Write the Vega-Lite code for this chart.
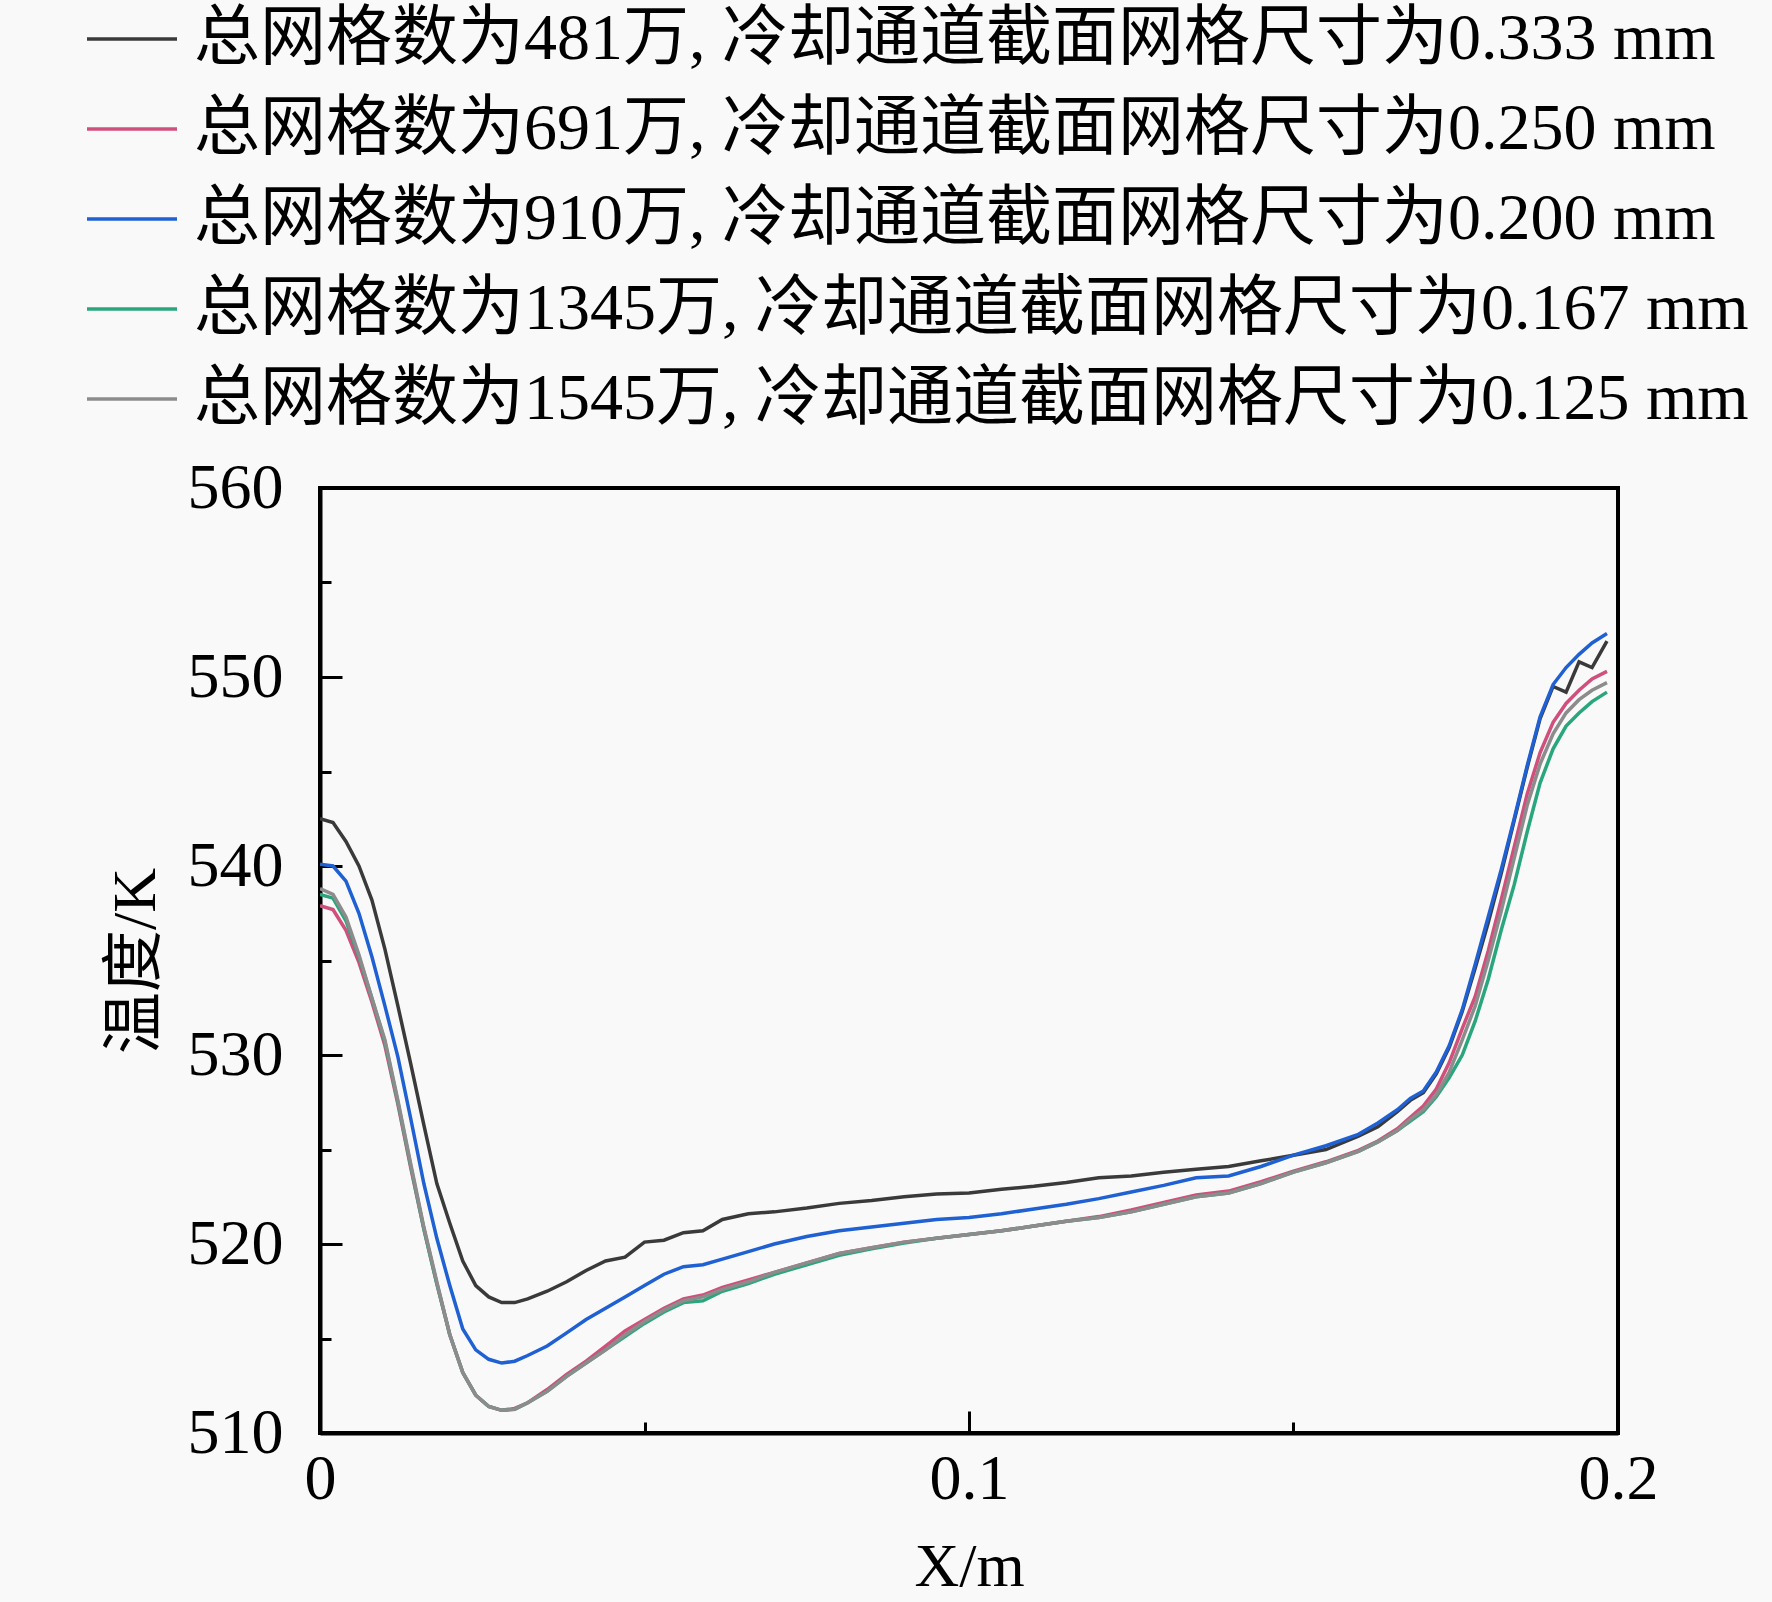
{
  "$schema": "https://vega.github.io/schema/vega-lite/v6.json",
  "width": 1298,
  "height": 945,
  "autosize": {"type": "none"},
  "padding": {"left": 320, "top": 488, "right": 154, "bottom": 169},
  "background": "#f9f9f9",
  "config": {
    "font": "Liberation Serif, Noto Sans CJK SC",
    "view": {"stroke": "black", "strokeWidth": 4},
    "axis": {
      "grid": false,
      "domainColor": "black",
      "domainWidth": 4,
      "tickColor": "black",
      "tickWidth": 3,
      "labelColor": "black",
      "labelFont": "Liberation Serif",
      "labelFontSize": 64,
      "titleColor": "black",
      "titleFontWeight": "normal"
    }
  },
  "data": {
    "values": [
      {"x": 0.0, "a": 542.5, "b": 537.9, "c": 540.1, "d": 538.5, "e": 538.8},
      {"x": 0.002, "a": 542.3, "b": 537.7, "c": 540.0, "d": 538.3, "e": 538.5},
      {"x": 0.004, "a": 541.3, "b": 536.6, "c": 539.2, "d": 537.1, "e": 537.3},
      {"x": 0.006, "a": 540.0, "b": 534.9, "c": 537.5, "d": 535.2, "e": 535.3},
      {"x": 0.008, "a": 538.2, "b": 532.8, "c": 535.2, "d": 533.0, "e": 533.0},
      {"x": 0.010, "a": 535.6, "b": 530.5, "c": 532.6, "d": 530.7, "e": 530.8},
      {"x": 0.012, "a": 532.6, "b": 527.4, "c": 529.9, "d": 527.5, "e": 527.6},
      {"x": 0.014, "a": 529.5, "b": 524.0, "c": 526.6, "d": 524.1, "e": 524.2},
      {"x": 0.016, "a": 526.3, "b": 520.8, "c": 523.2, "d": 520.8, "e": 520.9},
      {"x": 0.018, "a": 523.2, "b": 517.9, "c": 520.3, "d": 517.9, "e": 518.0},
      {"x": 0.020, "a": 521.1, "b": 515.2, "c": 517.8, "d": 515.2, "e": 515.2},
      {"x": 0.022, "a": 519.1, "b": 513.2, "c": 515.5, "d": 513.2, "e": 513.2},
      {"x": 0.024, "a": 517.8, "b": 512.0, "c": 514.4, "d": 512.0, "e": 512.0},
      {"x": 0.026, "a": 517.2, "b": 511.4, "c": 513.9, "d": 511.4, "e": 511.4},
      {"x": 0.028, "a": 516.9, "b": 511.2, "c": 513.7, "d": 511.2, "e": 511.2},
      {"x": 0.030, "a": 516.9, "b": 511.3, "c": 513.8, "d": 511.25, "e": 511.25},
      {"x": 0.032, "a": 517.1, "b": 511.6, "c": 514.1, "d": 511.6, "e": 511.6},
      {"x": 0.035, "a": 517.5, "b": 512.3, "c": 514.6, "d": 512.2, "e": 512.2},
      {"x": 0.038, "a": 518.0, "b": 513.1, "c": 515.3, "d": 513.0, "e": 513.0},
      {"x": 0.041, "a": 518.6, "b": 513.8, "c": 516.0, "d": 513.7, "e": 513.7},
      {"x": 0.044, "a": 519.1, "b": 514.6, "c": 516.6, "d": 514.4, "e": 514.4},
      {"x": 0.047, "a": 519.3, "b": 515.4, "c": 517.2, "d": 515.1, "e": 515.2},
      {"x": 0.050, "a": 520.1, "b": 516.0, "c": 517.8, "d": 515.8, "e": 515.9},
      {"x": 0.053, "a": 520.2, "b": 516.6, "c": 518.4, "d": 516.4, "e": 516.5},
      {"x": 0.056, "a": 520.6, "b": 517.1, "c": 518.8, "d": 516.9, "e": 517.0},
      {"x": 0.059, "a": 520.7, "b": 517.3, "c": 518.9, "d": 517.0, "e": 517.2},
      {"x": 0.062, "a": 521.3, "b": 517.7, "c": 519.2, "d": 517.5, "e": 517.6},
      {"x": 0.066, "a": 521.6, "b": 518.1, "c": 519.6, "d": 517.9, "e": 518.0},
      {"x": 0.070, "a": 521.7, "b": 518.5, "c": 520.0, "d": 518.4, "e": 518.5},
      {"x": 0.075, "a": 521.9, "b": 519.0, "c": 520.4, "d": 518.9, "e": 519.0},
      {"x": 0.080, "a": 522.15, "b": 519.5, "c": 520.7, "d": 519.4, "e": 519.5},
      {"x": 0.085, "a": 522.3, "b": 519.8, "c": 520.9, "d": 519.75, "e": 519.8},
      {"x": 0.090, "a": 522.5, "b": 520.1, "c": 521.1, "d": 520.05, "e": 520.1},
      {"x": 0.095, "a": 522.65, "b": 520.3, "c": 521.3, "d": 520.3, "e": 520.3},
      {"x": 0.100, "a": 522.7, "b": 520.5, "c": 521.4, "d": 520.5, "e": 520.5},
      {"x": 0.105, "a": 522.9, "b": 520.7, "c": 521.6, "d": 520.7, "e": 520.7},
      {"x": 0.110, "a": 523.05, "b": 520.95, "c": 521.85, "d": 520.95, "e": 520.95},
      {"x": 0.115, "a": 523.25, "b": 521.2, "c": 522.1, "d": 521.2, "e": 521.2},
      {"x": 0.120, "a": 523.5, "b": 521.45, "c": 522.4, "d": 521.4, "e": 521.4},
      {"x": 0.125, "a": 523.6, "b": 521.8, "c": 522.75, "d": 521.7, "e": 521.7},
      {"x": 0.130, "a": 523.8, "b": 522.2, "c": 523.1, "d": 522.1, "e": 522.1},
      {"x": 0.135, "a": 523.95, "b": 522.6, "c": 523.5, "d": 522.5, "e": 522.5},
      {"x": 0.140, "a": 524.1, "b": 522.8, "c": 523.6, "d": 522.7, "e": 522.7},
      {"x": 0.145, "a": 524.4, "b": 523.3, "c": 524.1, "d": 523.2, "e": 523.2},
      {"x": 0.150, "a": 524.7, "b": 523.85, "c": 524.7, "d": 523.8, "e": 523.8},
      {"x": 0.155, "a": 525.0, "b": 524.35, "c": 525.2, "d": 524.3, "e": 524.3},
      {"x": 0.160, "a": 525.7, "b": 524.95, "c": 525.8, "d": 524.9, "e": 524.9},
      {"x": 0.163, "a": 526.2, "b": 525.45, "c": 526.4, "d": 525.4, "e": 525.4},
      {"x": 0.166, "a": 527.0, "b": 526.1, "c": 527.1, "d": 526.0, "e": 526.0},
      {"x": 0.168, "a": 527.6, "b": 526.7, "c": 527.7, "d": 526.5, "e": 526.6},
      {"x": 0.170, "a": 528.0, "b": 527.3, "c": 528.1, "d": 527.0, "e": 527.1},
      {"x": 0.172, "a": 529.0, "b": 528.2, "c": 529.1, "d": 527.8, "e": 527.9},
      {"x": 0.174, "a": 530.4, "b": 529.6, "c": 530.5, "d": 528.8, "e": 529.1},
      {"x": 0.176, "a": 532.3, "b": 531.4, "c": 532.4, "d": 530.0, "e": 530.8},
      {"x": 0.178, "a": 534.6, "b": 533.1, "c": 534.8, "d": 531.8, "e": 532.6},
      {"x": 0.180, "a": 537.0, "b": 535.5, "c": 537.3, "d": 534.0, "e": 535.0},
      {"x": 0.182, "a": 539.6, "b": 538.2, "c": 539.8, "d": 536.6, "e": 537.6},
      {"x": 0.184, "a": 542.4, "b": 541.0, "c": 542.5, "d": 539.0, "e": 540.4},
      {"x": 0.186, "a": 545.2, "b": 543.8, "c": 545.3, "d": 541.8, "e": 543.2},
      {"x": 0.188, "a": 547.8, "b": 546.0, "c": 547.9, "d": 544.4, "e": 545.4},
      {"x": 0.190, "a": 549.5, "b": 547.6, "c": 549.6, "d": 546.2, "e": 547.0},
      {"x": 0.192, "a": 549.2, "b": 548.6, "c": 550.5, "d": 547.4, "e": 548.1},
      {"x": 0.194, "a": 550.8, "b": 549.3, "c": 551.2, "d": 548.1, "e": 548.8},
      {"x": 0.196, "a": 550.5, "b": 549.9, "c": 551.8, "d": 548.7, "e": 549.3},
      {"x": 0.1983, "a": 551.9, "b": 550.3, "c": 552.3, "d": 549.2, "e": 549.7}
    ]
  },
  "transform": [
    {"fold": ["a", "c", "b", "d", "e"], "as": ["key", "T"]},
    {
      "lookup": "key",
      "from": {
        "data": {
          "values": [
            {"key": "a", "label": "总网格数为481万, 冷却通道截面网格尺寸为0.333 mm"},
            {"key": "b", "label": "总网格数为691万, 冷却通道截面网格尺寸为0.250 mm"},
            {"key": "c", "label": "总网格数为910万, 冷却通道截面网格尺寸为0.200 mm"},
            {"key": "d", "label": "总网格数为1345万, 冷却通道截面网格尺寸为0.167 mm"},
            {"key": "e", "label": "总网格数为1545万, 冷却通道截面网格尺寸为0.125 mm"}
          ]
        },
        "key": "key",
        "fields": ["label"]
      }
    }
  ],
  "mark": {"type": "line", "strokeWidth": 3.5, "clip": true},
  "encoding": {
    "x": {
      "field": "x",
      "type": "quantitative",
      "scale": {"domain": [0, 0.2], "nice": false, "zero": false},
      "axis": {
        "values": [0, 0.05, 0.1, 0.15, 0.2],
        "labelExpr": "datum.value === 0 ? '0' : (abs(datum.value - 0.1) < 1e-9 ? '0.1' : (abs(datum.value - 0.2) < 1e-9 ? '0.2' : ''))",
        "tickSize": {"condition": {"test": "abs(datum.value*10 - round(datum.value*10)) < 1e-6", "value": -22}, "value": -11},
        "labelPadding": 36,
        "labelFlush": false,
        "labelOverlap": false,
        "title": "X/m",
        "titleFont": "Liberation Serif",
        "titleFontSize": 62,
        "titlePadding": 14
      }
    },
    "y": {
      "field": "T",
      "type": "quantitative",
      "scale": {"domain": [510, 560], "nice": false, "zero": false},
      "axis": {
        "values": [510, 515, 520, 525, 530, 535, 540, 545, 550, 555, 560],
        "labelExpr": "datum.value % 10 === 0 ? datum.label : ''",
        "tickSize": {"condition": {"test": "datum.value % 10 === 0", "value": -22}, "value": -11},
        "labelPadding": 59,
        "labelFlush": false,
        "labelOverlap": false,
        "title": "温度/K",
        "titleFont": "Liberation Serif, Noto Sans CJK SC",
        "titleFontSize": 62,
        "titlePadding": 20
      }
    },
    "color": {
      "field": "label",
      "type": "nominal",
      "scale": {
        "domain": [
          "总网格数为481万, 冷却通道截面网格尺寸为0.333 mm",
          "总网格数为691万, 冷却通道截面网格尺寸为0.250 mm",
          "总网格数为910万, 冷却通道截面网格尺寸为0.200 mm",
          "总网格数为1345万, 冷却通道截面网格尺寸为0.167 mm",
          "总网格数为1545万, 冷却通道截面网格尺寸为0.125 mm"
        ],
        "range": ["#3a3a3a", "#d04f7c", "#1f60d2", "#2aa67e", "#8c8c8c"]
      },
      "legend": {
        "title": null,
        "orient": "none",
        "legendX": -235,
        "legendY": -496,
        "direction": "vertical",
        "padding": 0,
        "symbolType": "stroke",
        "symbolSize": 8100,
        "symbolStrokeWidth": 3.5,
        "labelFont": "Liberation Serif, Noto Sans CJK SC",
        "labelFontSize": 66,
        "labelColor": "black",
        "labelLimit": 0,
        "labelOffset": 15,
        "rowPadding": 10
      }
    }
  }
}
